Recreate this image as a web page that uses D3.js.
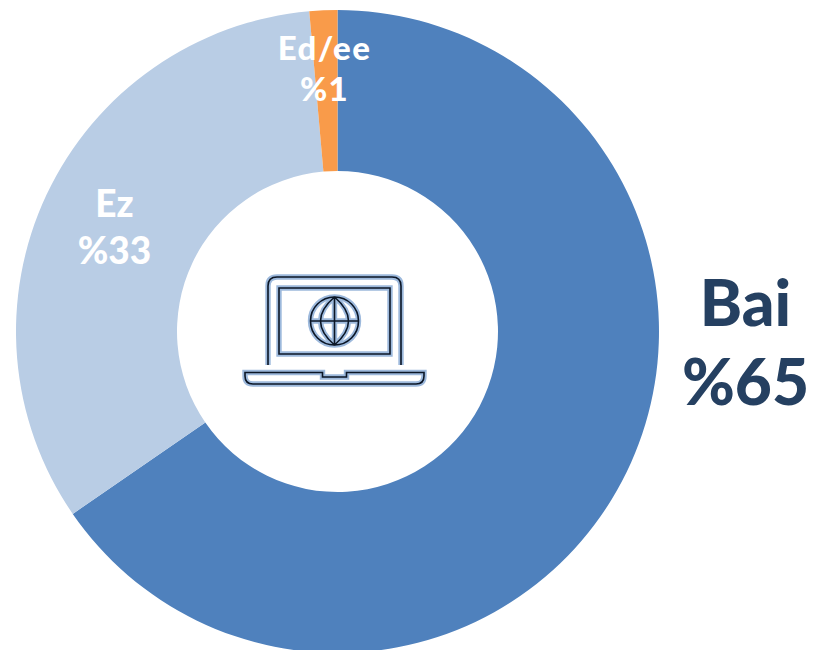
<!DOCTYPE html>
<html>
<head>
<meta charset="utf-8">
<script src="https://cdn.jsdelivr.net/npm/d3@7"></script>
<style>
  html, body { margin: 0; padding: 0; background: #fff; }
  text { font-family: Lato, "Open Sans", sans-serif; font-weight: 900; text-anchor: middle; }
</style>
</head>
<body>
<div id="dataviz"></div>
<script>
// slice data (printed labels are rounded)
var categories = ["Bai", "Ez", "Ed/ee"];
var values = [65.4, 33.2, 1.4];
var valueLabels = ["%65", "%33", "%1"];
var colors = ["#4f81bd", "#b9cde5", "#f99b4a"];
var textColors = ["#254061", "#ffffff", "#ffffff"];
var fontSizes = [64, 37, 33];
var spacing = [0, 0, 1.4];
// label centres relative to the donut centre
var labelPos = [[408, -6], [-223, -115], [-13, -272]];
var lineGap = [79, 47, 41];

var width = 817, height = 650;
var cx = 337.5, cy = 331.5, outer = 321.5, inner = 160.5;

var svg = d3.select("#dataviz").append("svg")
    .attr("width", width)
    .attr("height", height)
    .style("display", "block");

var g = svg.append("g").attr("transform", "translate(" + cx + "," + cy + ")");

var pie = d3.pie().sort(null).value(function(d) { return d; });
var arc = d3.arc().innerRadius(inner).outerRadius(outer);

g.selectAll("path.slice")
    .data(pie(values))
    .enter()
    .append("path")
    .attr("class", "slice")
    .attr("d", arc)
    .attr("fill", function(d, i) { return colors[i]; });

// labels, name above the percentage
categories.forEach(function(name, i) {
    var label = g.append("text")
        .attr("transform", "translate(" + labelPos[i][0] + "," + labelPos[i][1] + ")")
        .attr("fill", textColors[i])
        .style("font-size", fontSizes[i] + "px")
        .style("letter-spacing", spacing[i] + "px");
    label.append("tspan").attr("x", 0).attr("y", 0).text(name);
    label.append("tspan").attr("x", 0).attr("y", lineGap[i]).text(valueLabels[i]);
});

// laptop icon in the hole
var icon = svg.append("g");
var lid = "M268,365 V286 Q268,277 277,277 H392 Q401,277 401,286 V365";
var screen = "M279,288 H390 V354 H279 Z";
var base = "M245,372.5 H322.5 V377 H346.5 V372.5 H424 V376 Q424,384 416,384 H253 Q245,384 245,376 Z";
var globeR = 24, globeX = 334.5, globeY = 321;
var globe = [
    "M" + (globeX - globeR) + "," + globeY + " H" + (globeX + globeR),
    "M" + globeX + "," + (globeY - globeR) + " V" + (globeY + globeR),
    "M" + globeX + "," + (globeY - globeR) + " Q" + (globeX - 28) + "," + globeY + " " + globeX + "," + (globeY + globeR),
    "M" + globeX + "," + (globeY - globeR) + " Q" + (globeX + 28) + "," + globeY + " " + globeX + "," + (globeY + globeR)
].join(" ");

// light halo first, dark line on top
[["#9db9dc", 5.4], ["#0b1626", 1.6]].forEach(function(s) {
    var layer = icon.append("g")
        .attr("fill", "none")
        .attr("stroke", s[0])
        .attr("stroke-width", s[1]);
    layer.append("path").attr("d", lid);
    layer.append("path").attr("d", screen);
    layer.append("path").attr("d", base);
    layer.append("circle").attr("cx", globeX).attr("cy", globeY).attr("r", globeR);
    layer.append("path").attr("d", globe);
});
</script>
</body>
</html>
